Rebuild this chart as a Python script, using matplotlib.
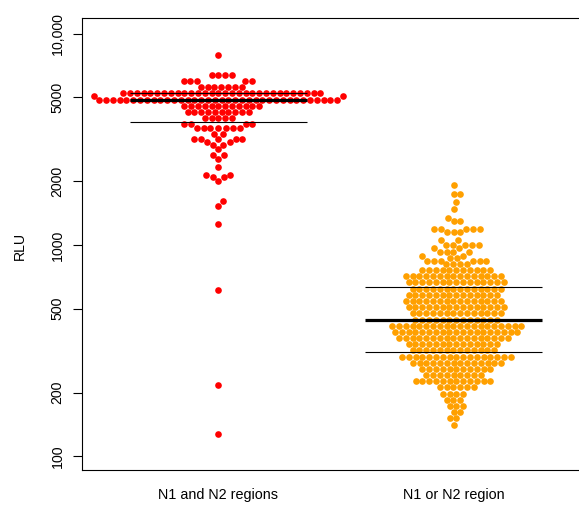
import numpy as np
import matplotlib.pyplot as plt

plt.rcParams['font.family'] = ['Liberation Sans', 'DejaVu Sans']

groups = ['N1 and N2 regions', 'N1 or N2 region']
colors = ['#FF0000', '#FFA000']

# RLU values: level and number of points at that level
red_levels = [7960, 6386, 5983, 5620, 5252, 5061, 4857, 4550, 4263, 3995,
              3743, 3590, 3365, 3187, 3078, 2980, 2837, 2657, 2545, 2333,
              2139, 2086, 1998, 1620, 1530, 1256, 614, 218, 127]
red_counts = [1, 4, 5, 7, 30, 2, 36, 12, 10, 5,
              4, 7, 2, 5, 2, 2, 1, 2, 1, 1,
              2, 2, 1, 1, 1, 1, 1, 1, 1]

orange_levels = [1925, 1740, 1590, 1484, 1341, 1294, 1194, 1148, 1056, 1003,
                 968, 927, 890, 868, 843, 813.5,
                 760.6, 711.0, 664.7,
                 621.4, 581.0, 543.1, 507.8, 474.7, 443.8,
                 414.9, 387.9, 362.6, 339.0, 316.9,
                 296.3, 277.0, 259.0, 242.1, 226.3, 211.6, 197.8, 184.9, 172.9,
                 161.6, 151.1, 141.3]
orange_counts = [1, 2, 1, 1, 1, 2, 5, 3, 2, 5,
                 2, 4, 2, 2, 6, 4,
                 11, 15, 15,
                 14, 14, 15, 15, 14, 13,
                 20, 19, 17, 14, 13,
                 17, 14, 11, 9, 12, 6, 4, 3, 3,
                 2, 2, 1]

yticks = [100, 200, 500, 1000, 2000, 5000, 10000]
yticklabels = ['100', '200', '500', '1000', '2000', '5000', '10,000']


def swarm(ypix, d):
  # beeswarm "swarm" method, ascending priority, offsets in pixels
  order = np.argsort(ypix, kind='stable')
  out = np.zeros(len(ypix))
  px, py = [], []
  for i in order:
    yi = ypix[i] / d
    xi = 0.0
    if px:
      ax_ = np.array(px)
      ay_ = np.array(py)
      near = np.abs(yi - ay_) < 1
      if near.any():
        pre_x = ax_[near]
        pre_y = ay_[near]
        off = np.sqrt(1 - (yi - pre_y) ** 2)
        cand = np.concatenate([[0.0], pre_x + off, pre_x - off])
        bad = np.array([np.any((c - pre_x) ** 2 + (yi - pre_y) ** 2 < 0.999) for c in cand])
        cand[bad] = np.inf
        xi = cand[np.argmin(np.abs(cand))]
    px.append(xi)
    py.append(yi)
    out[i] = xi * d
  return out


fig = plt.figure(figsize=(5.79, 5.07), dpi=100)
ax = fig.add_axes([82 / 579, 37 / 507, 508 / 579, 452 / 507])
ax.set_yscale('log')
ax.set_ylim(86.1, 11860)
ax.set_xlim(0.42, 2.58)

data = [np.repeat(red_levels, red_counts), np.repeat(orange_levels, orange_counts)]

x_unit = ax.transData.transform((1, 1))[0] - ax.transData.transform((0, 1))[0]
for g, vals in enumerate(data):
  pos = g + 1
  ypix = ax.transData.transform(np.column_stack([np.full(len(vals), pos), vals]))[:, 1]
  offs = swarm(ypix, 6.8) / x_unit
  ax.scatter(pos + offs, vals, s=23, color=colors[g], linewidths=0, zorder=2)

  q1, med, q3 = np.percentile(vals, [25, 50, 75])
  ax.hlines([q1, q3], pos - 0.375, pos + 0.375, color='black', lw=0.8, zorder=3)
  ax.hlines(med, pos - 0.375, pos + 0.375, color='black', lw=2.3, zorder=3)

ax.set_yticks(yticks)
ax.set_yticklabels(yticklabels, rotation=90, va='center')
ax.yaxis.set_minor_locator(plt.NullLocator())
ax.tick_params(axis='y', length=6.5, width=0.8, pad=6, labelsize=10.2)
ax.set_xticks([1, 2])
ax.set_xticklabels(groups)
ax.tick_params(axis='x', length=0, pad=13, labelsize=10.4)
for s in ax.spines.values():
  s.set_linewidth(0.8)

fig.text(20 / 579, 1 - 246 / 507, 'RLU', rotation=90, ha='center', va='center', fontsize=10.2)

fig.savefig('out.png', dpi=100)
